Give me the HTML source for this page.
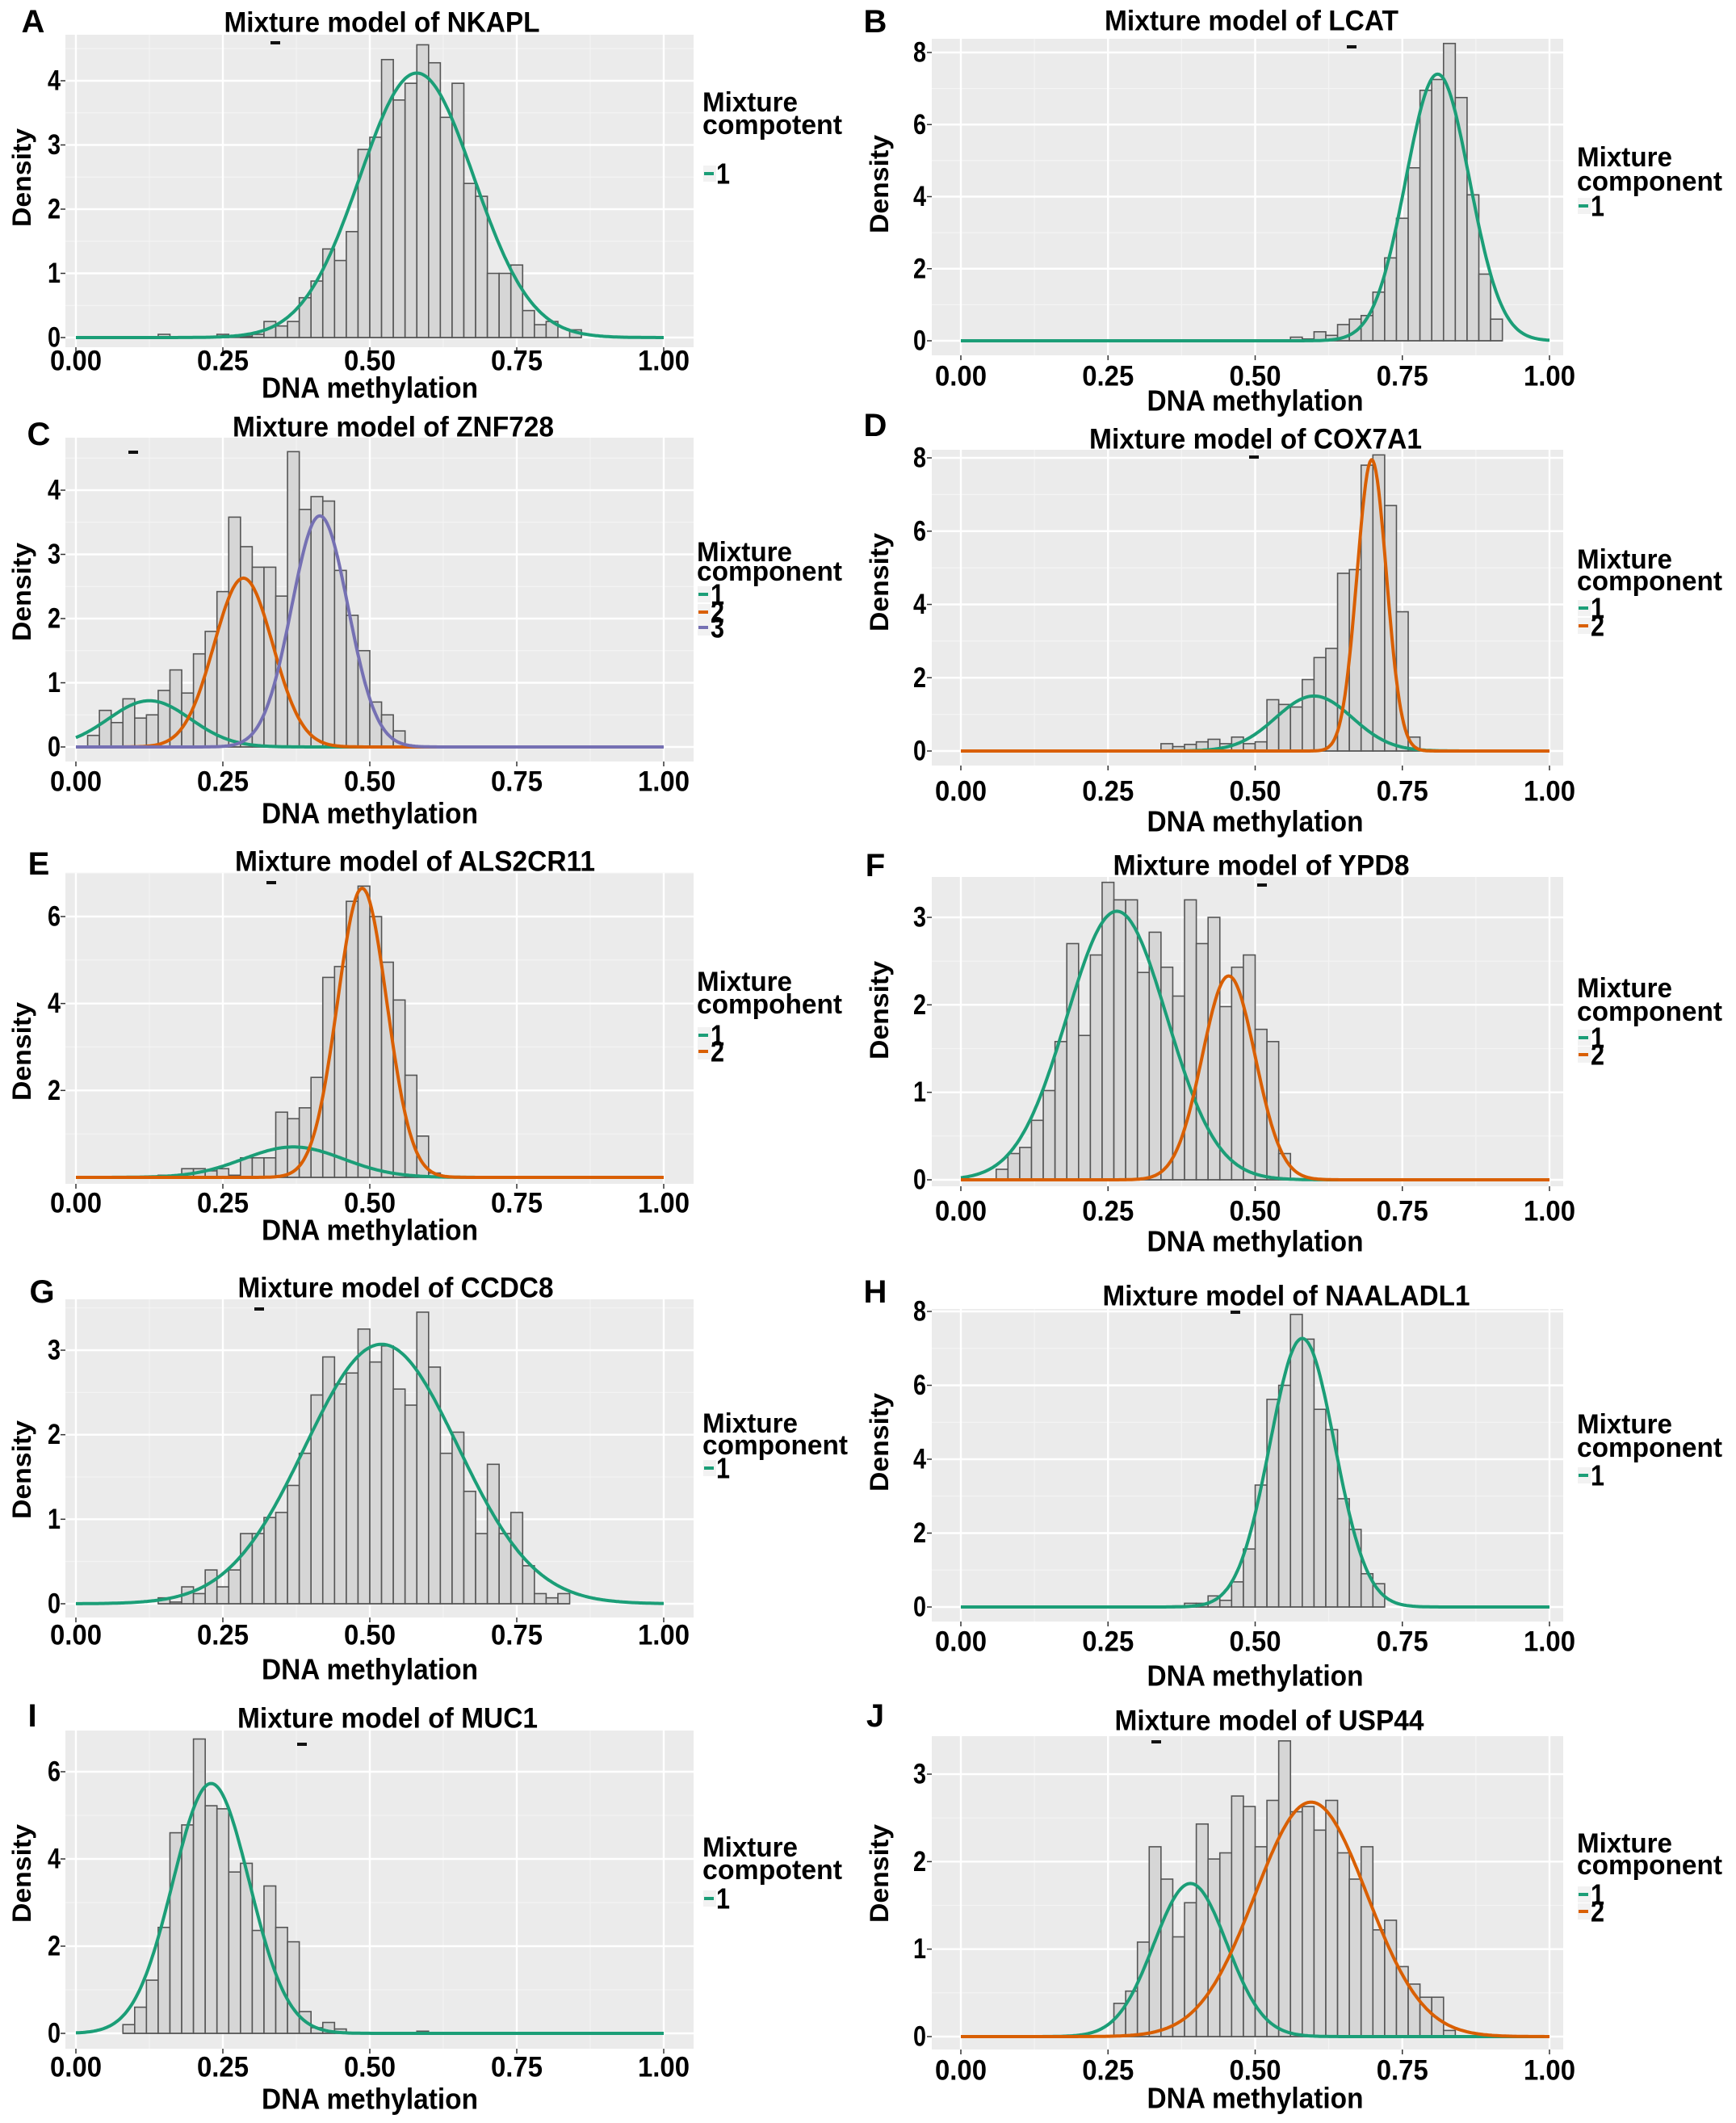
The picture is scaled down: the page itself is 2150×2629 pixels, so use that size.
<!DOCTYPE html>
<html><head><meta charset="utf-8"><title>Mixture models</title>
<style>
html,body{margin:0;padding:0;background:#fff;}
svg{display:block;}
.nar{font-family:"Liberation Sans Narrow","Liberation Sans",sans-serif;font-weight:bold;fill:#000;}
.reg{font-family:"Liberation Sans",sans-serif;font-weight:bold;fill:#000;}
</style></head>
<body>
<svg id="fig" width="2150" height="2629" viewBox="0 0 2150 2629" xmlns="http://www.w3.org/2000/svg"></svg>
<script>
// ---- data: histogram bin start, heights (bin width 0.02) and mixture components ----
const binWidth = 0.02;
const xTickLabels = ["0.00","0.25","0.50","0.75","1.00"];
const xTickValues = [0,0.25,0.5,0.75,1];

const startA = 0.14;
const binsA = [0.05,0,0,0,0,0.05,0,0.02,0.05,0.25,0.18,0.25,0.62,0.88,1.38,1.2,1.65,2.93,3.12,4.33,3.7,3.96,4.56,4.28,3.43,3.96,2.4,2.2,1.0,1.0,1.13,0.42,0.2,0.25,0,0.12];
const meansA = [0.58]; const sdsA = [0.097]; const peaksA = [4.12];

const startB = 0.56;
const binsB = [0.1,0.05,0.25,0.15,0.45,0.6,0.7,1.35,2.3,3.4,4.8,6.95,7.25,8.25,6.75,4.05,1.85,0.6];
const meansB = [0.81]; const sdsB = [0.054]; const peaksB = [7.4];

const startC = 0.02;
const binsC = [0.18,0.57,0.38,0.75,0.45,0.5,0.88,1.2,0.84,1.45,1.8,2.42,3.58,3.12,2.8,2.8,2.35,4.6,3.7,3.9,3.83,2.75,2.05,1.5,0.7,0.5,0.25];
const meansC = [0.125,0.285,0.415]; const sdsC = [0.07,0.05,0.048]; const peaksC = [0.72,2.63,3.6];

const startD = 0.34;
const binsD = [0.2,0.12,0.18,0.25,0.32,0.2,0.38,0.2,0.25,1.4,1.27,1.2,1.95,2.55,2.8,4.85,4.95,7.8,8.08,6.7,3.8,0.38];
const meansD = [0.6,0.698]; const sdsD = [0.065,0.025]; const peaksD = [1.5,7.95];

const startE = 0.14;
const binsE = [0.05,0.05,0.2,0.2,0.15,0.2,0.05,0.45,0.45,0.45,1.5,1.35,1.6,2.3,4.6,4.85,6.35,6.7,6.0,4.95,4.08,2.35,0.95,0.1];
const meansE = [0.37,0.487]; const sdsE = [0.085,0.042]; const peaksE = [0.7,6.65];

const startF = 0.06;
const binsF = [0.12,0.3,0.37,0.68,1.02,1.58,2.7,1.65,2.57,3.4,3.2,3.2,2.37,2.83,2.43,2.1,3.2,2.7,3.0,1.98,2.43,2.57,1.72,1.58,0.3];
const meansF = [0.265,0.455]; const sdsF = [0.085,0.045]; const peaksF = [3.07,2.33];

const startG = 0.14;
const binsG = [0.07,0.02,0.2,0.12,0.4,0.2,0.4,0.83,0.83,1.02,1.08,1.4,1.78,2.47,2.92,2.6,2.73,3.25,2.86,3.05,2.54,2.35,3.45,2.8,1.78,2.03,1.33,0.83,1.65,0.83,1.08,0.45,0.12,0.07,0.12];
const meansG = [0.52]; const sdsG = [0.13]; const peaksG = [3.07];

const startH = 0.36;
const binsH = [0.03,0.1,0.1,0.3,0.18,0.68,1.57,3.3,5.62,6.0,7.92,7.25,5.35,4.8,2.93,2.1,0.9,0.63];
const meansH = [0.58]; const sdsH = [0.055]; const peaksH = [7.27];

const startI = 0.08;
const binsI = [0.2,0.6,1.22,2.43,4.6,4.78,6.75,5.22,5.15,3.7,3.9,2.36,3.38,2.43,2.1,0.5,0.13,0.25,0.1,0.02,0,0,0,0,0,0.05];
const meansI = [0.23]; const sdsI = [0.065]; const peaksI = [5.73];

const startJ = 0.26;
const binsJ = [0.38,0.52,1.08,2.17,1.8,1.14,1.53,2.43,2.03,2.1,2.75,2.63,2.17,2.7,3.38,2.57,2.63,2.36,2.7,2.1,1.8,2.17,1.22,1.33,0.8,0.6,0.45,0.45,0.07];
const meansJ = [0.39,0.595]; const sdsJ = [0.062,0.095]; const peaksJ = [1.75,2.68];

const yTicksA = [0,1,2,3,4];
const yTicksB = [0,2,4,6,8];
const yTicksC = [0,1,2,3,4];
const yTicksD = [0,2,4,6,8];
const yTicksE = [2,4,6];
const yTicksF = [0,1,2,3];
const yTicksG = [0,1,2,3];
const yTicksH = [0,2,4,6,8];
const yTicksI = [0,2,4,6];
const yTicksJ = [0,1,2,3];

const compColors = ["#1b9e77","#d95f02","#7570b3"];

// ---- layout (pixel geometry) ----
const panels = [
 {id:"a",letter:"A",gene:"NKAPL",start:startA,bins:binsA,m:meansA,s:sdsA,p:peaksA,yt:yTicksA,bg:[81,43,859,430],x0:94,x1:822,y0:418,yref:[4,100],title:[473,28,391],let:[41,27],tick:447,xl:480,dens:[27,220],tyx:75,leg:[870,127,155,[215]],legTitle:"compotent",legW:173,dash:[341,53]},
 {id:"b",letter:"B",gene:"LCAT",start:startB,bins:binsB,m:meansB,s:sdsB,p:peaksB,yt:yTicksB,bg:[1154,48,1936,440],x0:1190,x1:1919,y0:422,yref:[8,65],title:[1550,26,364],let:[1084,27],tick:466,xl:496,dens:[1089,228],tyx:1147,leg:[1953,195,225,[255]],legTitle:"component",legW:180,dash:[1674,58]},
 {id:"c",letter:"C",gene:"ZNF728",start:startC,bins:binsC,m:meansC,s:sdsC,p:peaksC,yt:yTicksC,bg:[81,542,859,943],x0:94,x1:822,y0:925,yref:[4,607],title:[487,529,398],let:[48,538],tick:968,xl:1007,dens:[27,733],tyx:75,leg:[863,684,708,[736,758,777]],legTitle:"component",legW:180,dash:[165,560]},
 {id:"d",letter:"D",gene:"COX7A1",start:startD,bins:binsD,m:meansD,s:sdsD,p:peaksD,yt:yTicksD,bg:[1154,557,1936,948],x0:1190,x1:1919,y0:930,yref:[8,567],title:[1555,544,412],let:[1084,527],tick:980,xl:1017,dens:[1089,721],tyx:1147,leg:[1953,693,720,[753,775]],legTitle:"component",legW:180,dash:[1553,566]},
 {id:"e",letter:"E",gene:"ALS2CR11",start:startE,bins:binsE,m:meansE,s:sdsE,p:peaksE,yt:yTicksE,bg:[81,1081,859,1466],x0:94,x1:822,y0:1458,yref:[6,1135],title:[514,1067,446],let:[48,1070],tick:1490,xl:1523,dens:[27,1302],tyx:75,leg:[863,1216,1244,[1282,1302]],legTitle:"compohent",legW:180,dash:[336,1093]},
 {id:"f",letter:"F",gene:"YPD8",start:startF,bins:binsF,m:meansF,s:sdsF,p:peaksF,yt:yTicksF,bg:[1154,1086,1936,1469],x0:1190,x1:1919,y0:1461,yref:[3,1136],title:[1562,1072,367],let:[1084,1072],tick:1500,xl:1537,dens:[1089,1251],tyx:1147,leg:[1953,1224,1253,[1285,1306]],legTitle:"component",legW:180,dash:[1563,1096]},
 {id:"g",letter:"G",gene:"CCDC8",start:startG,bins:binsG,m:meansG,s:sdsG,p:peaksG,yt:yTicksG,bg:[81,1609,859,2003],x0:94,x1:822,y0:1986,yref:[3,1672],title:[490,1595,391],let:[52,1600],tick:2025,xl:2067,dens:[27,1820],tyx:75,leg:[870,1763,1790,[1818]],legTitle:"component",legW:180,dash:[321,1621]},
 {id:"h",letter:"H",gene:"NAALADL1",start:startH,bins:binsH,m:meansH,s:sdsH,p:peaksH,yt:yTicksH,bg:[1154,1621,1936,2008],x0:1190,x1:1919,y0:1990,yref:[8,1624],title:[1593,1605,455],let:[1084,1600],tick:2033,xl:2075,dens:[1089,1786],tyx:1147,leg:[1953,1764,1793,[1827]],legTitle:"component",legW:180,dash:[1530,1625]},
 {id:"i",letter:"I",gene:"MUC1",start:startI,bins:binsI,m:meansI,s:sdsI,p:peaksI,yt:yTicksI,bg:[81,2143,859,2537],x0:94,x1:822,y0:2518,yref:[6,2194],title:[480,2128,372],let:[40,2125],tick:2560,xl:2599,dens:[27,2320],tyx:75,leg:[870,2288,2316,[2351]],legTitle:"compotent",legW:173,dash:[374,2160]},
 {id:"j",letter:"J",gene:"USP44",start:startJ,bins:binsJ,m:meansJ,s:sdsJ,p:peaksJ,yt:yTicksJ,bg:[1154,2150,1936,2538],x0:1190,x1:1919,y0:2522,yref:[3,2197],title:[1572,2131,383],let:[1084,2125],tick:2564,xl:2598,dens:[1089,2320],tyx:1147,leg:[1953,2283,2310,[2346,2367]],legTitle:"component",legW:180,dash:[1432,2157]}
];

const NS = "http://www.w3.org/2000/svg";
const fig = document.getElementById("fig");
function mk(tag, attrs, parent){
  const e = document.createElementNS(NS, tag);
  for (const k in attrs) e.setAttribute(k, attrs[k]);
  parent.appendChild(e);
  return e;
}

panels.forEach(P => {
  const g = mk("g", {}, fig);
  
  
  const xs = v => P.x0 + v * (P.x1 - P.x0);
  const unit = (P.y0 - P.yref[1]) / P.yref[0];
  const ys = v => P.y0 - v * unit;
  const [bx0, by0, bx1, by1] = P.bg;

  const bg = mk("rect", {x:bx0, y:by0, width:bx1-bx0, height:by1-by0, fill:"#ebebeb"}, g);
  
  

  for (let i = 0; i < xTickValues.length - 1; i++) {
    const xm = xs((xTickValues[i] + xTickValues[i+1]) / 2);
    mk("line", {x1:xm, x2:xm, y1:by0, y2:by1, stroke:"#f4f4f4", "stroke-width":1.2}, g);
  }
  const step = P.yt.length > 1 ? P.yt[1] - P.yt[0] : 1;
  for (let v = P.yt[0] - step / 2; ys(v) > by0; v += step) {
    if (ys(v) < by1) mk("line", {x1:bx0, x2:bx1, y1:ys(v), y2:ys(v), stroke:"#f4f4f4", "stroke-width":1.2}, g);
  }
  xTickValues.forEach(v => mk("line", {x1:xs(v), x2:xs(v), y1:by0, y2:by1, stroke:"#ffffff", "stroke-width":2.4}, g));
  P.yt.forEach(v => mk("line", {x1:bx0, x2:bx1, y1:ys(v), y2:ys(v), stroke:"#ffffff", "stroke-width":2.4}, g));

  P.bins.forEach((h, i) => {
    if (h <= 0) return;
    const l = P.start + i * binWidth;
    const r = mk("rect", {x:xs(l), y:ys(h), width:xs(l + binWidth) - xs(l), height:P.y0 - ys(h), fill:"#d6d6d6", stroke:"#555", "stroke-width":1.6}, g);
    
    
  });
  const first = P.bins.findIndex(h => h > 0);
  mk("line", {x1:xs(P.start + first*binWidth), x2:xs(P.start + P.bins.length*binWidth), y1:P.y0, y2:P.y0, stroke:"#555", "stroke-width":1.6}, g);

  P.m.forEach((mu, k) => {
    let d = "";
    for (let j = 0; j <= 400; j++) {
      const x = j / 400;
      const y = P.p[k] * Math.exp(-0.5 * Math.pow((x - mu) / P.s[k], 2));
      d += (j ? "L" : "M") + xs(x).toFixed(1) + "," + ys(y).toFixed(1);
    }
    const c = mk("path", {d:d, fill:"none", stroke:compColors[k], "stroke-width":4, "stroke-linejoin":"round"}, g);
    
    
  });

  mk("rect", {x:P.dash[0]-6, y:P.dash[1]-2, width:12, height:4, fill:"#111"}, g);

  xTickValues.forEach((v, i) => {
    mk("line", {x1:xs(v), x2:xs(v), y1:by1, y2:by1+6, stroke:"#333", "stroke-width":1.5}, g);
    const t = mk("text", {x:xs(v), y:P.tick, "text-anchor":"middle", "dominant-baseline":"central", "font-size":35, class:"nar", textLength:64, lengthAdjust:"spacingAndGlyphs"}, g);
    t.textContent = xTickLabels[i];
    
    
  });
  P.yt.forEach(v => {
    mk("line", {x1:bx0-6, x2:bx0, y1:ys(v), y2:ys(v), stroke:"#333", "stroke-width":1.5}, g);
    const t = mk("text", {x:P.tyx, y:ys(v), "text-anchor":"end", "dominant-baseline":"central", "font-size":35, class:"nar", textLength:16, lengthAdjust:"spacingAndGlyphs"}, g);
    t.textContent = String(v);
    
    
  });

  const tt = mk("text", {x:P.title[0], y:P.title[1], "text-anchor":"middle", "dominant-baseline":"central", "font-size":35, class:"nar", textLength:P.title[2], lengthAdjust:"spacingAndGlyphs"}, g);
  tt.textContent = "Mixture model of " + P.gene;
  
  

  const lt = mk("text", {x:P.let[0], y:P.let[1], "text-anchor":"middle", "dominant-baseline":"central", "font-size":40, class:"reg"}, g);
  lt.textContent = P.letter;
  
  

  const xl = mk("text", {x:(P.x0+P.x1)/2, y:P.xl, "text-anchor":"middle", "dominant-baseline":"central", "font-size":36, class:"nar", textLength:268, lengthAdjust:"spacingAndGlyphs"}, g);
  xl.textContent = "DNA methylation";
  
  

  const yl = mk("text", {x:0, y:0, "text-anchor":"middle", "dominant-baseline":"central", "font-size":32, class:"reg", textLength:122, lengthAdjust:"spacingAndGlyphs", transform:"translate(" + P.dens[0] + "," + P.dens[1] + ") rotate(-90)"}, g);
  yl.textContent = "Density";
  
  

  const lg = mk("g", {}, g);
  
  
  const l1 = mk("text", {x:P.leg[0], y:P.leg[1], "dominant-baseline":"central", "font-size":34, class:"nar", textLength:118, lengthAdjust:"spacingAndGlyphs"}, lg);
  l1.textContent = "Mixture";
  const l2 = mk("text", {x:P.leg[0], y:P.leg[2], "dominant-baseline":"central", "font-size":34, class:"nar", textLength:P.legW, lengthAdjust:"spacingAndGlyphs"}, lg);
  l2.textContent = P.legTitle;
  P.leg[3].forEach((cy, k) => {
    const e = mk("g", {}, lg);
    
    
    mk("rect", {x:P.leg[0]+1, y:cy-10, width:16, height:20, fill:"#f2f2f2"}, e);
    mk("line", {x1:P.leg[0]+2, x2:P.leg[0]+14, y1:cy, y2:cy, stroke:compColors[k], "stroke-width":4}, e);
    const t = mk("text", {x:P.leg[0]+17, y:cy, "dominant-baseline":"central", "font-size":36, class:"nar", textLength:17, lengthAdjust:"spacingAndGlyphs"}, e);
    t.textContent = String(k+1);
  });
});
</script>
</body></html>
